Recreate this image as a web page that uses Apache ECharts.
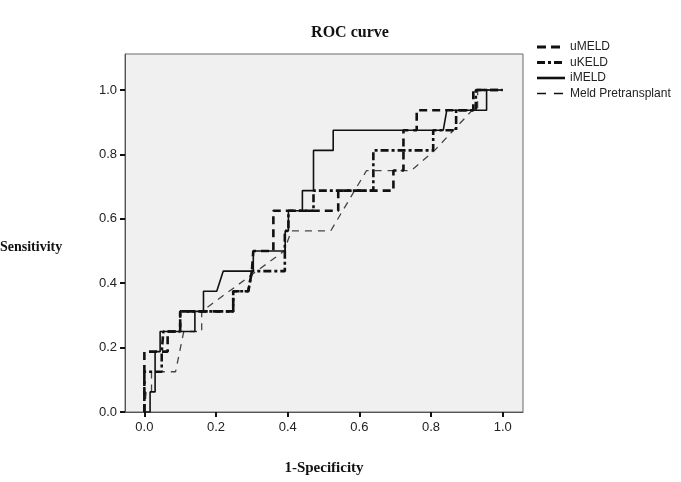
<!DOCTYPE html>
<html>
<head>
<meta charset="utf-8">
<script src="https://cdn.jsdelivr.net/npm/echarts@6/dist/echarts.min.js"></script>
<style>html,body{margin:0;padding:0;background:#fff;}#c{width:681px;height:482px;}</style>
</head>
<body>
<div id="c"></div>
<script>
// ---- data ----
var seriesNames = ['uMELD', 'uKELD', 'iMELD', 'Meld Pretransplant'];
var tickValues = [0, 0.2, 0.4, 0.6, 0.8, 1.0];

var uMELD_x = [0, 0, 0.065, 0.065, 0.1, 0.1, 0.248, 0.248, 0.29, 0.3, 0.304, 0.304, 0.36, 0.36, 0.541, 0.541, 0.695, 0.695, 0.723, 0.723, 0.76, 0.76, 0.918, 0.918, 1];
var uMELD_y = [0, 0.1875, 0.1875, 0.25, 0.25, 0.3125, 0.3125, 0.375, 0.375, 0.4375, 0.4375, 0.5, 0.5, 0.625, 0.625, 0.6875, 0.6875, 0.75, 0.75, 0.875, 0.875, 0.9375, 0.9375, 1, 1];

var uKELD_x = [0, 0, 0.0485, 0.0485, 0.053, 0.053, 0.1, 0.1, 0.248, 0.248, 0.29, 0.3, 0.392, 0.392, 0.402, 0.402, 0.472, 0.472, 0.639, 0.639, 0.806, 0.806, 0.87, 0.87, 0.925, 0.925, 1];
var uKELD_y = [0, 0.125, 0.125, 0.1875, 0.1875, 0.25, 0.25, 0.3125, 0.3125, 0.375, 0.375, 0.4375, 0.4375, 0.5625, 0.5625, 0.625, 0.625, 0.6875, 0.6875, 0.8125, 0.8125, 0.875, 0.875, 0.9375, 0.9375, 1, 1];

var iMELD_x = [0, 0.016, 0.016, 0.03, 0.03, 0.044, 0.044, 0.141, 0.141, 0.165, 0.165, 0.202, 0.22, 0.304, 0.304, 0.393, 0.393, 0.402, 0.402, 0.441, 0.441, 0.472, 0.472, 0.527, 0.527, 0.834, 0.844, 0.955, 0.955, 1];
var iMELD_y = [0, 0, 0.0625, 0.0625, 0.1875, 0.1875, 0.25, 0.25, 0.3125, 0.3125, 0.375, 0.375, 0.4375, 0.4375, 0.5, 0.5, 0.5625, 0.5625, 0.625, 0.625, 0.6875, 0.6875, 0.8125, 0.8125, 0.875, 0.875, 0.9375, 0.9375, 1, 1];

var meld_x = [0, 0.005, 0.02, 0.02, 0.087, 0.11, 0.16, 0.16, 0.39, 0.41, 0.52, 0.62, 0.745, 0.81, 0.915, 0.93, 0.93, 1];
var meld_y = [0, 0.0625, 0.0625, 0.125, 0.125, 0.25, 0.25, 0.3125, 0.5, 0.5625, 0.5625, 0.75, 0.75, 0.8125, 0.9375, 0.9375, 1, 1];

function pairs(xs, ys) { return xs.map(function (v, i) { return [v, ys[i]]; }); }

var chart = echarts.init(document.getElementById('c'), null, { renderer: 'canvas' });
var serif = '"Liberation Serif", "DejaVu Serif", serif';
var sans = '"Liberation Sans", Arial, sans-serif';

var styles = {
  'uMELD': { color: '#111', width: 2.6, type: [8, 5] },
  'uKELD': { color: '#111', width: 2.6, type: [8, 3, 3, 3] },
  'iMELD': { color: '#111', width: 1.6, type: 'solid' },
  'Meld Pretransplant': { color: '#444', width: 1.3, type: [7, 6] }
};
var legendDash = {
  'uMELD': [9, 5], 'uKELD': [8, 3, 3, 3], 'iMELD': null, 'Meld Pretransplant': [9, 8]
};
var legendWidth = { 'uMELD': 3, 'uKELD': 3, 'iMELD': 2.6, 'Meld Pretransplant': 1.6 };

var graphics = [
  { type: 'text', left: 0, top: 240, style: { text: 'Sensitivity', font: 'bold 14px ' + serif, fill: '#111' } },
  { type: 'text', x: 324, y: 468, style: { text: '1-Specificity', font: 'bold 15px ' + serif, fill: '#111', textAlign: 'center', textVerticalAlign: 'middle' } }
];
seriesNames.forEach(function (n, i) {
  var y = 47 + i * 15.5;
  graphics.push({ type: 'line', shape: { x1: 537, y1: y, x2: 565, y2: y },
    style: { stroke: '#111', lineWidth: legendWidth[n], lineDash: legendDash[n] } });
  graphics.push({ type: 'text', x: 570, y: y, style: { text: n, font: '12px ' + sans, fill: '#222', textVerticalAlign: 'middle' } });
});

chart.setOption({
  animation: false,
  backgroundColor: '#ffffff',
  title: {
    text: 'ROC curve',
    left: 345, top: 20, textAlign: 'center',
    textStyle: { fontFamily: serif, fontWeight: 'bold', fontSize: 16, color: '#111' }
  },
  grid: {
    left: 125, right: 158, top: 54, bottom: 70,
    show: true, backgroundColor: '#f0f0f0', borderColor: '#6a6a6a', borderWidth: 1
  },
  xAxis: {
    type: 'value', min: -0.054, max: 1.0566,
    splitLine: { show: false },
    axisLine: { show: true, onZero: false, lineStyle: { color: '#555', width: 1 } },
    axisTick: { show: true, customValues: tickValues, length: 5, lineStyle: { color: '#111', width: 2 } },
    axisLabel: { customValues: tickValues, margin: 9, fontFamily: sans, fontSize: 13, color: '#222',
      formatter: function (v) { return v.toFixed(1); } }
  },
  yAxis: {
    type: 'value', min: 0, max: 1.112,
    splitLine: { show: false },
    axisLine: { show: true, onZero: false, lineStyle: { color: '#555', width: 1 } },
    axisTick: { show: true, customValues: tickValues, length: 5, lineStyle: { color: '#111', width: 2 } },
    axisLabel: { customValues: tickValues, margin: 8, fontFamily: sans, fontSize: 13, color: '#222',
      formatter: function (v) { return v.toFixed(1); } }
  },
  graphic: graphics,
  series: [
    { name: 'Meld Pretransplant', type: 'line', symbol: 'none', z: 2, data: pairs(meld_x, meld_y),
      lineStyle: styles['Meld Pretransplant'] },
    { name: 'uMELD', type: 'line', symbol: 'none', z: 3, data: pairs(uMELD_x, uMELD_y),
      lineStyle: styles['uMELD'] },
    { name: 'uKELD', type: 'line', symbol: 'none', z: 4, data: pairs(uKELD_x, uKELD_y),
      lineStyle: styles['uKELD'] },
    { name: 'iMELD', type: 'line', symbol: 'none', z: 5, data: pairs(iMELD_x, iMELD_y),
      lineStyle: styles['iMELD'] }
  ]
});
</script>
</body>
</html>
